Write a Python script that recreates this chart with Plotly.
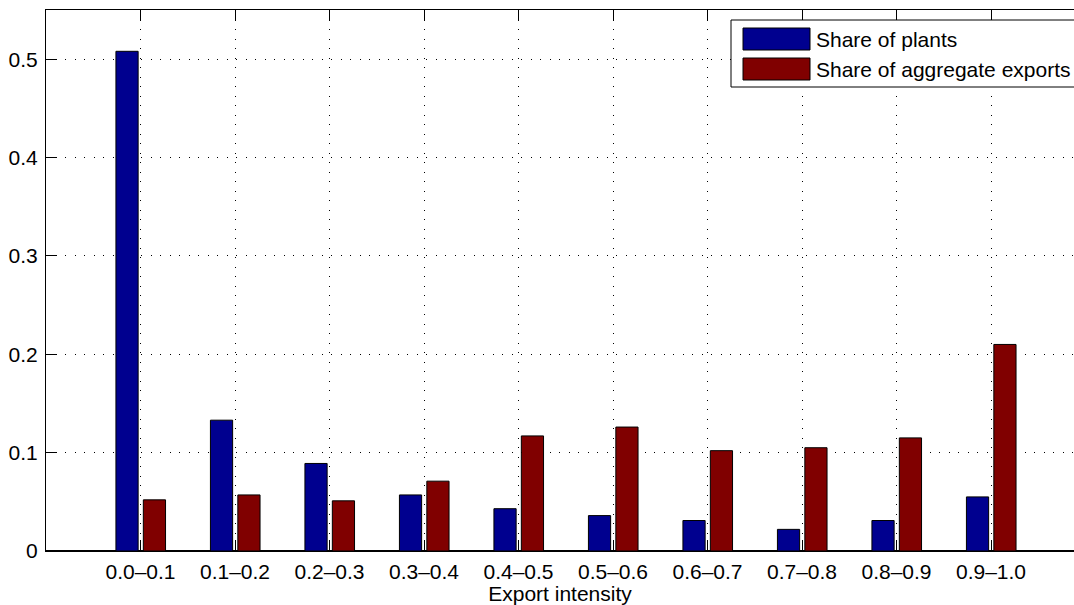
import plotly.graph_objects as go

categories = ["0.0–0.1", "0.1–0.2", "0.2–0.3", "0.3–0.4", "0.4–0.5",
              "0.5–0.6", "0.6–0.7", "0.7–0.8", "0.8–0.9", "0.9–1.0"]
share_plants = [0.508, 0.133, 0.089, 0.057, 0.043, 0.036, 0.031, 0.022, 0.031, 0.055]
share_exports = [0.052, 0.057, 0.051, 0.071, 0.117, 0.126, 0.102, 0.105, 0.115, 0.210]
y_ticks = [0, 0.1, 0.2, 0.3, 0.4, 0.5]

BLUE = "rgb(0,0,143)"
RED = "rgb(128,0,0)"
FONT = "Liberation Sans, Arial, Helvetica, sans-serif"
FS = 21

xpos = list(range(1, len(categories) + 1))

fig = go.Figure()
fig.add_trace(go.Bar(x=xpos, y=share_plants, name="Share of plants",
                     marker=dict(color=BLUE, line=dict(color="black", width=1)),
                     width=0.235, offset=-0.26, showlegend=False))
fig.add_trace(go.Bar(x=xpos, y=share_exports, name="Share of aggregate exports",
                     marker=dict(color=RED, line=dict(color="black", width=1)),
                     width=0.235, offset=0.03, showlegend=False))

W, H = 1074, 605
ml, mt, mb, mr = 46, 10, 54, 0
pw, ph = W - ml - mr, H - mt - mb


def px_x(p):
    return (p - ml) / pw


def px_y(p):
    return (H - mb - p) / ph


# legend box (MATLAB style)
fig.add_shape(type="rect", xref="paper", yref="paper",
              x0=px_x(731), x1=px_x(1090), y0=px_y(87), y1=px_y(20),
              fillcolor="white", line=dict(color="black", width=1), layer="above")
for (y0, y1, col, name) in [(28, 50, BLUE, "Share of plants"),
                            (58, 80, RED, "Share of aggregate exports")]:
    fig.add_shape(type="rect", xref="paper", yref="paper",
                  x0=px_x(743), x1=px_x(810), y0=px_y(y1), y1=px_y(y0),
                  fillcolor=col, line=dict(color="black", width=1), layer="above")
    fig.add_annotation(xref="paper", yref="paper", x=px_x(814), y=px_y((y0 + y1) / 2),
                       text=name, showarrow=False, xanchor="left", yanchor="middle",
                       font=dict(family=FONT, size=FS, color="black"))

fig.update_layout(
    width=W, height=H,
    margin=dict(l=ml, r=mr, t=mt, b=mb, pad=0, autoexpand=False),
    paper_bgcolor="white", plot_bgcolor="white",
    barmode="overlay",
    font=dict(family=FONT, size=FS, color="black"),
    showlegend=False,
)
fig.update_xaxes(
    automargin=False,
    range=[0, pw / 94.5], tickmode="array", tickvals=xpos, ticktext=categories,
    ticks="inside", ticklen=11, tickcolor="black", tickwidth=1,
    showline=True, linecolor="black", linewidth=1, mirror="ticks",
    showgrid=True, gridcolor="black", gridwidth=1, griddash="1px,8.5px",
    zeroline=False,
    title=dict(text="Export intensity", standoff=1, font=dict(size=FS)),
    tickfont=dict(size=FS), ticklabelstandoff=2,
)
fig.update_yaxes(
    automargin=False,
    range=[0, 0.55], tickmode="array", tickvals=y_ticks,
    ticktext=[("%g" % v) for v in y_ticks],
    ticks="inside", ticklen=11, tickcolor="black", tickwidth=1,
    showline=True, linecolor="black", linewidth=1, mirror=False,
    showgrid=True, gridcolor="black", gridwidth=1, griddash="1px,8.5px",
    zeroline=True, zerolinecolor="black", zerolinewidth=2,
    tickfont=dict(size=FS), ticklabelstandoff=3,
)

fig.write_html("out.html",
               config={"displayModeBar": False},
               post_script="document.body.style.margin='0';document.body.style.overflow='hidden';")
